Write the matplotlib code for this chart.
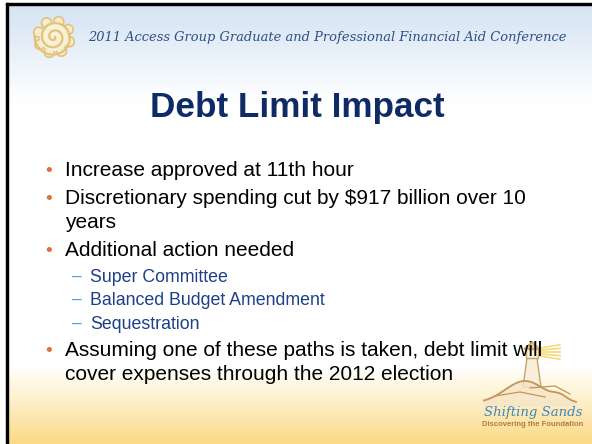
import numpy as np
import matplotlib
matplotlib.use("Agg")
import matplotlib.pyplot as plt
from matplotlib.patches import Polygon, Circle, Rectangle

# slide content
header = "2011 Access Group Graduate and Professional Financial Aid Conference"
title = "Debt Limit Impact"
bullets = [
    ("Increase approved at 11th hour", 0),
    ("Discretionary spending cut by $917 billion over 10\nyears", 0),
    ("Additional action needed", 0),
    ("Super Committee", 1),
    ("Balanced Budget Amendment", 1),
    ("Sequestration", 1),
    ("Assuming one of these paths is taken, debt limit will\ncover expenses through the 2012 election", 0),
]
bullet_y = [171, 199, 251, 277, 300, 324, 351]
logo_main = "Shifting Sands"
logo_sub = "Discovering the Foundation"

W, H = 592, 444
fig = plt.figure(figsize=(W / 100, H / 100), dpi=100)
ax = fig.add_axes([0, 0, 1, 1])
ax.set_xlim(0, W)
ax.set_ylim(H, 0)
ax.axis("off")

# background gradient (blue top, white middle, yellow bottom)
stops_y = [0, 20, 100, 365, 395, 444]
stops_c = [(0.84, 0.89, 0.95), (0.86, 0.91, 0.96), (1, 1, 1), (1, 1, 1),
           (0.996, 0.95, 0.82), (0.985, 0.85, 0.52)]
yy = np.arange(H)
grad = np.zeros((H, 1, 3))
for ch in range(3):
    grad[:, 0, ch] = np.interp(yy, stops_y, [c[ch] for c in stops_c])
ax.imshow(grad, extent=[7, W, H, 4], aspect="auto", zorder=0)

# frame lines
ax.add_patch(Rectangle((6, 3), W, 2, color="black", zorder=1))
ax.add_patch(Rectangle((6, 3), 2, H, color="black", zorder=1))

# sun logo
cx, cy = 54, 37
sun_edge = "#e3c27a"
for k in range(8):
    a = k * np.pi / 4 + 0.3
    ax.add_patch(Circle((cx + 16 * np.cos(a), cy + 16 * np.sin(a)), 5,
                        facecolor="#f7ecd0", edgecolor=sun_edge, lw=1.2, zorder=2))
ax.add_patch(Circle((cx, cy), 14, facecolor="#f9f0d8", edgecolor="none", zorder=3))
t = np.linspace(0, 5 * np.pi, 200)
r = 1 + 1.6 * t / np.pi * 2.3
ax.plot(cx + r * np.cos(t), cy + r * np.sin(t), color=sun_edge, lw=1.6, zorder=4)

ax.text(88, 38, header, fontsize=9.4, family="DejaVu Serif", style="italic",
        color="#2f4f86", va="center", ha="left", zorder=5)

ax.text(297, 107, title, fontsize=25.3, family="Liberation Sans", weight="bold",
        color="#0f2b66", ha="center", va="center", zorder=5)

for (txt, lvl), y in zip(bullets, bullet_y):
    if lvl == 0:
        ax.text(45, y, "\u2022", fontsize=14, color="#d9733a", family="Liberation Sans",
                va="center", ha="left", zorder=5)
        ax.text(65, y - 10, txt, fontsize=15, color="black", family="Liberation Sans",
                va="top", ha="left", linespacing=1.3, zorder=5)
    else:
        ax.text(72, y, "\u2013", fontsize=12.5, color="#5a8fd0", family="Liberation Sans",
                va="center", ha="left", zorder=5)
        ax.text(90, y, txt, fontsize=12.8, color="#1d3f8a", family="Liberation Sans",
                va="center", ha="left", zorder=5)

# lighthouse logo
ray_c = "#f7d77a"
for dy in [-6, -3, 0, 3, 6]:
    ax.plot([538, 560], [352 + dy * 0.6, 352 + dy * 1.2], color=ray_c, lw=1.2, zorder=2)
tower = Polygon([[523, 387], [527, 358], [537, 358], [541, 387]],
                facecolor="#f7efdc", edgecolor="#c9a46a", lw=1.0, zorder=3)
ax.add_patch(tower)
ax.add_patch(Rectangle((526, 349), 12, 9, facecolor="#fbf2dc", edgecolor="#c9a46a", lw=1.0, zorder=3))
ax.add_patch(Polygon([[524, 349], [532, 342], [540, 349]], facecolor="#e6c790",
                     edgecolor="#c9a46a", lw=1.0, zorder=3))
hx = np.linspace(484, 576, 60)
hy = 403 - 22 * np.exp(-((hx - 525) / 28) ** 2) - 5 * np.exp(-((hx - 560) / 10) ** 2)
ax.fill_between(hx, hy, 405, color="#f5e6c8", alpha=0.8, zorder=3)
ax.plot(hx, hy, color="#c4955a", lw=1.3, zorder=4)
ax.plot([495, 520, 545], [396, 392, 397], color="#c4955a", lw=0.9, zorder=4)
ax.plot([530, 555, 570], [388, 386, 394], color="#c4955a", lw=0.9, zorder=4)
ax.text(533, 412, logo_main, fontsize=9.5, family="DejaVu Serif", style="italic",
        color="#3c86c2", ha="center", va="center", zorder=5)
ax.text(533, 424, logo_sub, fontsize=5.5, family="Liberation Sans", weight="bold",
        color="#b57a40", ha="center", va="center", zorder=5)

fig.savefig("out.png", dpi=100)
